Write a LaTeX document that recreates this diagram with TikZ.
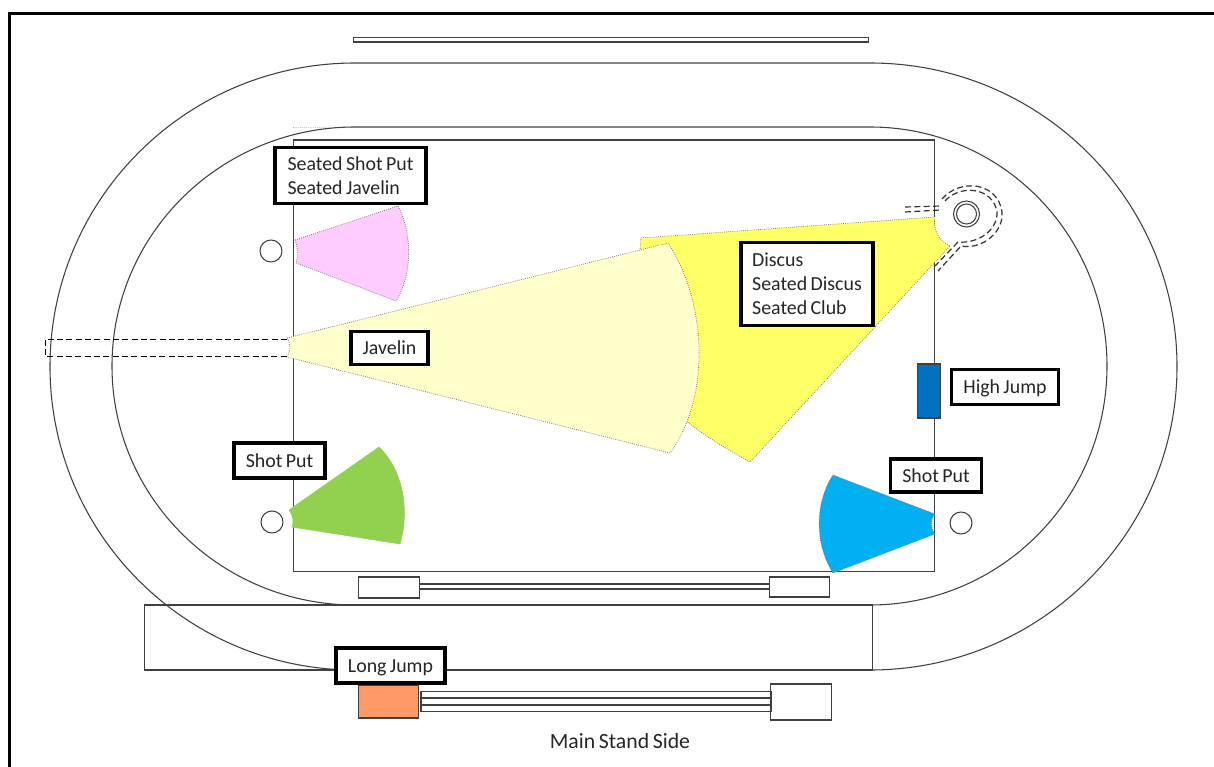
\documentclass[tikz,border=0pt]{standalone}
\usepackage{fontspec}
\setmainfont{Carlito}[WordSpace=0.75]
\usetikzlibrary{positioning}
\definecolor{linegray}{HTML}{404040}
\definecolor{javelinfill}{HTML}{FFFFCC}
\definecolor{discusfill}{HTML}{FFFF66}
\definecolor{seatedfill}{HTML}{FFCCFF}
\definecolor{greenfill}{HTML}{92D050}
\definecolor{bluefill}{HTML}{00B0F0}
\definecolor{orangefill}{HTML}{FF9966}
\definecolor{barfill}{HTML}{0070C0}
\definecolor{tagtext}{HTML}{262626}
\tikzstyle{trackline} = [draw=linegray, line width=0.8pt]
\tikzstyle{sector} = [draw=gray, densely dotted, line width=0.6pt]
\tikzstyle{cage} = [draw=black!80, line width=0.9pt, dash pattern=on 4.5pt off 2.5pt]
\tikzstyle{ringmark} = [circle, minimum size=16.5pt, inner sep=0pt, draw=linegray, line width=0.8pt, fill=white]
\tikzstyle{tagbox} = [rectangle, draw=black, text=tagtext, line width=2.6pt, fill=white, font=\fontsize{14.9}{18}\selectfont, align=left, inner sep=0pt]
\tikzstyle{tagsingle} = [tagbox, align=center, text height=10pt, text depth=0pt]

\begin{document}
\begin{tikzpicture}[x=0.75pt, y=-0.75pt]
    \useasboundingbox (0,0) rectangle (1214,767);

    \draw [black, line width=1.7pt] (1220,13.5) -- (9.5,13.5) -- (9.5,775);

    \draw [trackline] (355,63) -- (870,63) arc[start angle=-90, end angle=90, x radius=307, y radius=303.5] -- (355,670) arc[start angle=90, end angle=270, x radius=305, y radius=303.5];
    \draw [trackline] (355,127) -- (870,127) arc[start angle=-90, end angle=90, x radius=237, y radius=239] -- (355,605) arc[start angle=90, end angle=270, x radius=243, y radius=239];
    \draw [gray, densely dotted, line width=0.4pt] (293,127.5) -- (355,127);

    \draw [trackline] (353.5,37.5) rectangle (868.5,42);
    \draw [trackline] (293.7,140) rectangle (934.7,571.7);
    \draw [trackline] (144.7,605) rectangle (872.7,670);

    \draw [black, line width=0.75pt, dash pattern=on 4.5pt off 2.5pt] (287,339) -- (45,339) -- (45,356) -- (287,356);

    \draw [sector, fill=discusfill] (641,238) -- (935,217) .. controls (933,230) and (938,240) .. (950,246) -- (750,462) .. controls (725,448) and (703,435) .. (685,420) -- (640,250) -- cycle;
    \draw [sector, fill=javelinfill] (287,338) -- (668,243) .. controls (706,300) and (712,396) .. (670,453) -- (287,357) .. controls (291,350) and (291,345) .. (287,338);
    \draw [sector, fill=seatedfill] (295,240) -- (398,206) .. controls (412,232) and (413,274) .. (396,301) -- (296,263) .. controls (298,256) and (298,247) .. (295,240);
    \draw [draw=greenfill, fill=greenfill] (289,510) -- (379,447) .. controls (403,470) and (410,510) .. (400,544) -- (292,527) .. controls (294,522) and (293,515) .. (289,510);
    \draw [sector, fill=bluefill] (935,514) -- (833,475) .. controls (814,504) and (815,545) .. (833,573) -- (935,534) .. controls (930,528) and (930,520) .. (935,514);

    \node (circleseated) [ringmark] at (271,251) {};
    \node (circleshotleft) [ringmark] at (272,522) {};
    \node (circleshotright) [ringmark] at (961,523) {};
    \node (circlediscus) [ringmark, minimum size=19.5pt] at (966.5,214) {};
    \node (circlediscusin) [ringmark, minimum size=15pt] at (966.5,214) {};

    \draw [cage] (942,199) .. controls (960,178) and (998,182) .. (1002,212) .. controls (1004,232) and (982,250) .. (961,246) -- (938,271);
    \draw [cage] (945,201) .. controls (960,184) and (993,187) .. (997,212) .. controls (998,230) and (978,244) .. (958,242) -- (935,266);
    \draw [cage] (905,207) -- (941,206);
    \draw [cage] (905,212) -- (940,210);

    \draw [trackline, fill=white] (358.7,577) rectangle (419.7,598);
    \draw [trackline, fill=white] (769.7,577) rectangle (829.7,597);
    \draw [trackline] (420,584) -- (770,584);
    \draw [trackline] (420,589) -- (770,589);

    \draw [trackline, fill=orangefill] (358.7,685) rectangle (418.7,718);
    \draw [trackline, fill=white] (770.7,684) rectangle (831.7,720);
    \draw [trackline] (421,691.5) rectangle (771,711.5);
    \draw [trackline] (421,698) -- (771,698);
    \draw [trackline] (421,705) -- (771,705);

    \draw [trackline, fill=barfill] (917.7,364) rectangle (940.7,418);

    \node (seatedtag) [tagbox, minimum width=113pt, minimum height=42pt] at (350.5,175.5) {Seated Shot Put\\Seated Javelin};
    \node (javelintag) [tagsingle, minimum width=58pt, minimum height=25pt] at (389.5,348) {Javelin};
    \node (discustag) [tagbox, minimum width=99pt, minimum height=62pt] at (807,284) {Discus\\Seated Discus\\Seated Club};
    \node (highjumptag) [tagsingle, minimum width=80pt, minimum height=26pt] at (1005,387) {High Jump};
    \node (shotlefttag) [tagsingle, minimum width=68pt, minimum height=26pt] at (279.5,460.5) {Shot Put};
    \node (shotrighttag) [tagsingle, minimum width=68pt, minimum height=25pt] at (936,475.5) {Shot Put};
    \node (longjumptag) [tagsingle, minimum width=82pt, minimum height=26pt] at (390.5,665.5) {Long Jump};
    \node (standside) [text=tagtext, font=\fontsize{16.3}{18}\selectfont, inner sep=0pt] at (620,741) {Main Stand Side};
\end{tikzpicture}
\end{document}
